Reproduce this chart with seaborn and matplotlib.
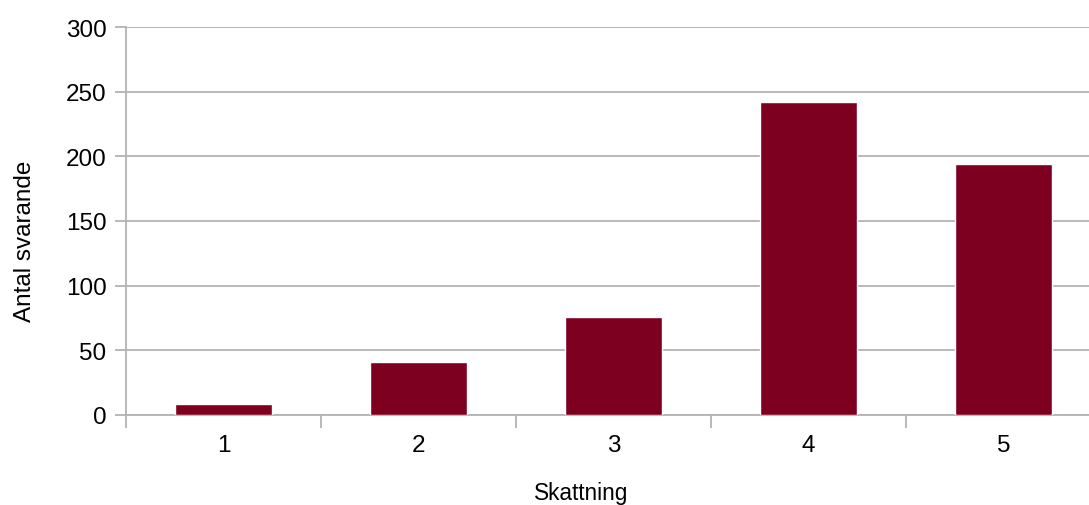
import seaborn as sns
import matplotlib.pyplot as plt
import pandas as pd

# survey answers per rating
skattning = ["1", "2", "3", "4", "5"]
antal = [8, 41, 76, 242, 194]
y_ticks = [0, 50, 100, 150, 200, 250, 300]

df = pd.DataFrame({"Skattning": skattning, "Antal svarande": antal})

sns.set_style("white")
plt.rcParams['font.family'] = ['Liberation Sans', 'DejaVu Sans']
plt.rcParams['text.color'] = 'black'
plt.rcParams['axes.labelcolor'] = 'black'

fig = plt.figure(figsize=(10.89, 5.06), dpi=100)
ax = fig.add_axes([0.1157, 0.1785, 0.8953, 0.7656])

sns.barplot(data=df, x="Skattning", y="Antal svarande", color="#7e0021",
            width=0.5, saturation=1, ax=ax, zorder=3)

grid_c = "#b3b3b3"
ax.set_ylim(0, 300)
ax.set_xlim(-0.5, 4.5)
ax.set_yticks(y_ticks)
ax.yaxis.grid(True, color=grid_c, linewidth=1.3, zorder=0)
ax.set_axisbelow(True)

for s in ["top", "right"]:
    ax.spines[s].set_visible(False)
for s in ["left", "bottom"]:
    ax.spines[s].set_color(grid_c)
    ax.spines[s].set_linewidth(1.3)

ax.tick_params(axis="y", direction="out", length=8, width=1.3, color=grid_c,
               labelsize=17.5, pad=6, left=True, labelcolor="black")
ax.tick_params(axis="x", length=0, labelsize=17.5, pad=14, labelcolor="black")
ax.set_xticks([-0.5, 0.5, 1.5, 2.5, 3.5], minor=True)
ax.tick_params(axis="x", which="minor", direction="out", length=9, width=1.3,
               color=grid_c, bottom=True)

ax.set_xlabel("Skattning", fontsize=16.3, color="black")
ax.set_ylabel("Antal svarande", fontsize=17.5, color="black")
ax.xaxis.set_label_coords(0.4667, -0.17)
ax.yaxis.set_label_coords(-0.092, 0.451)

fig.savefig("out.png", dpi=100)
